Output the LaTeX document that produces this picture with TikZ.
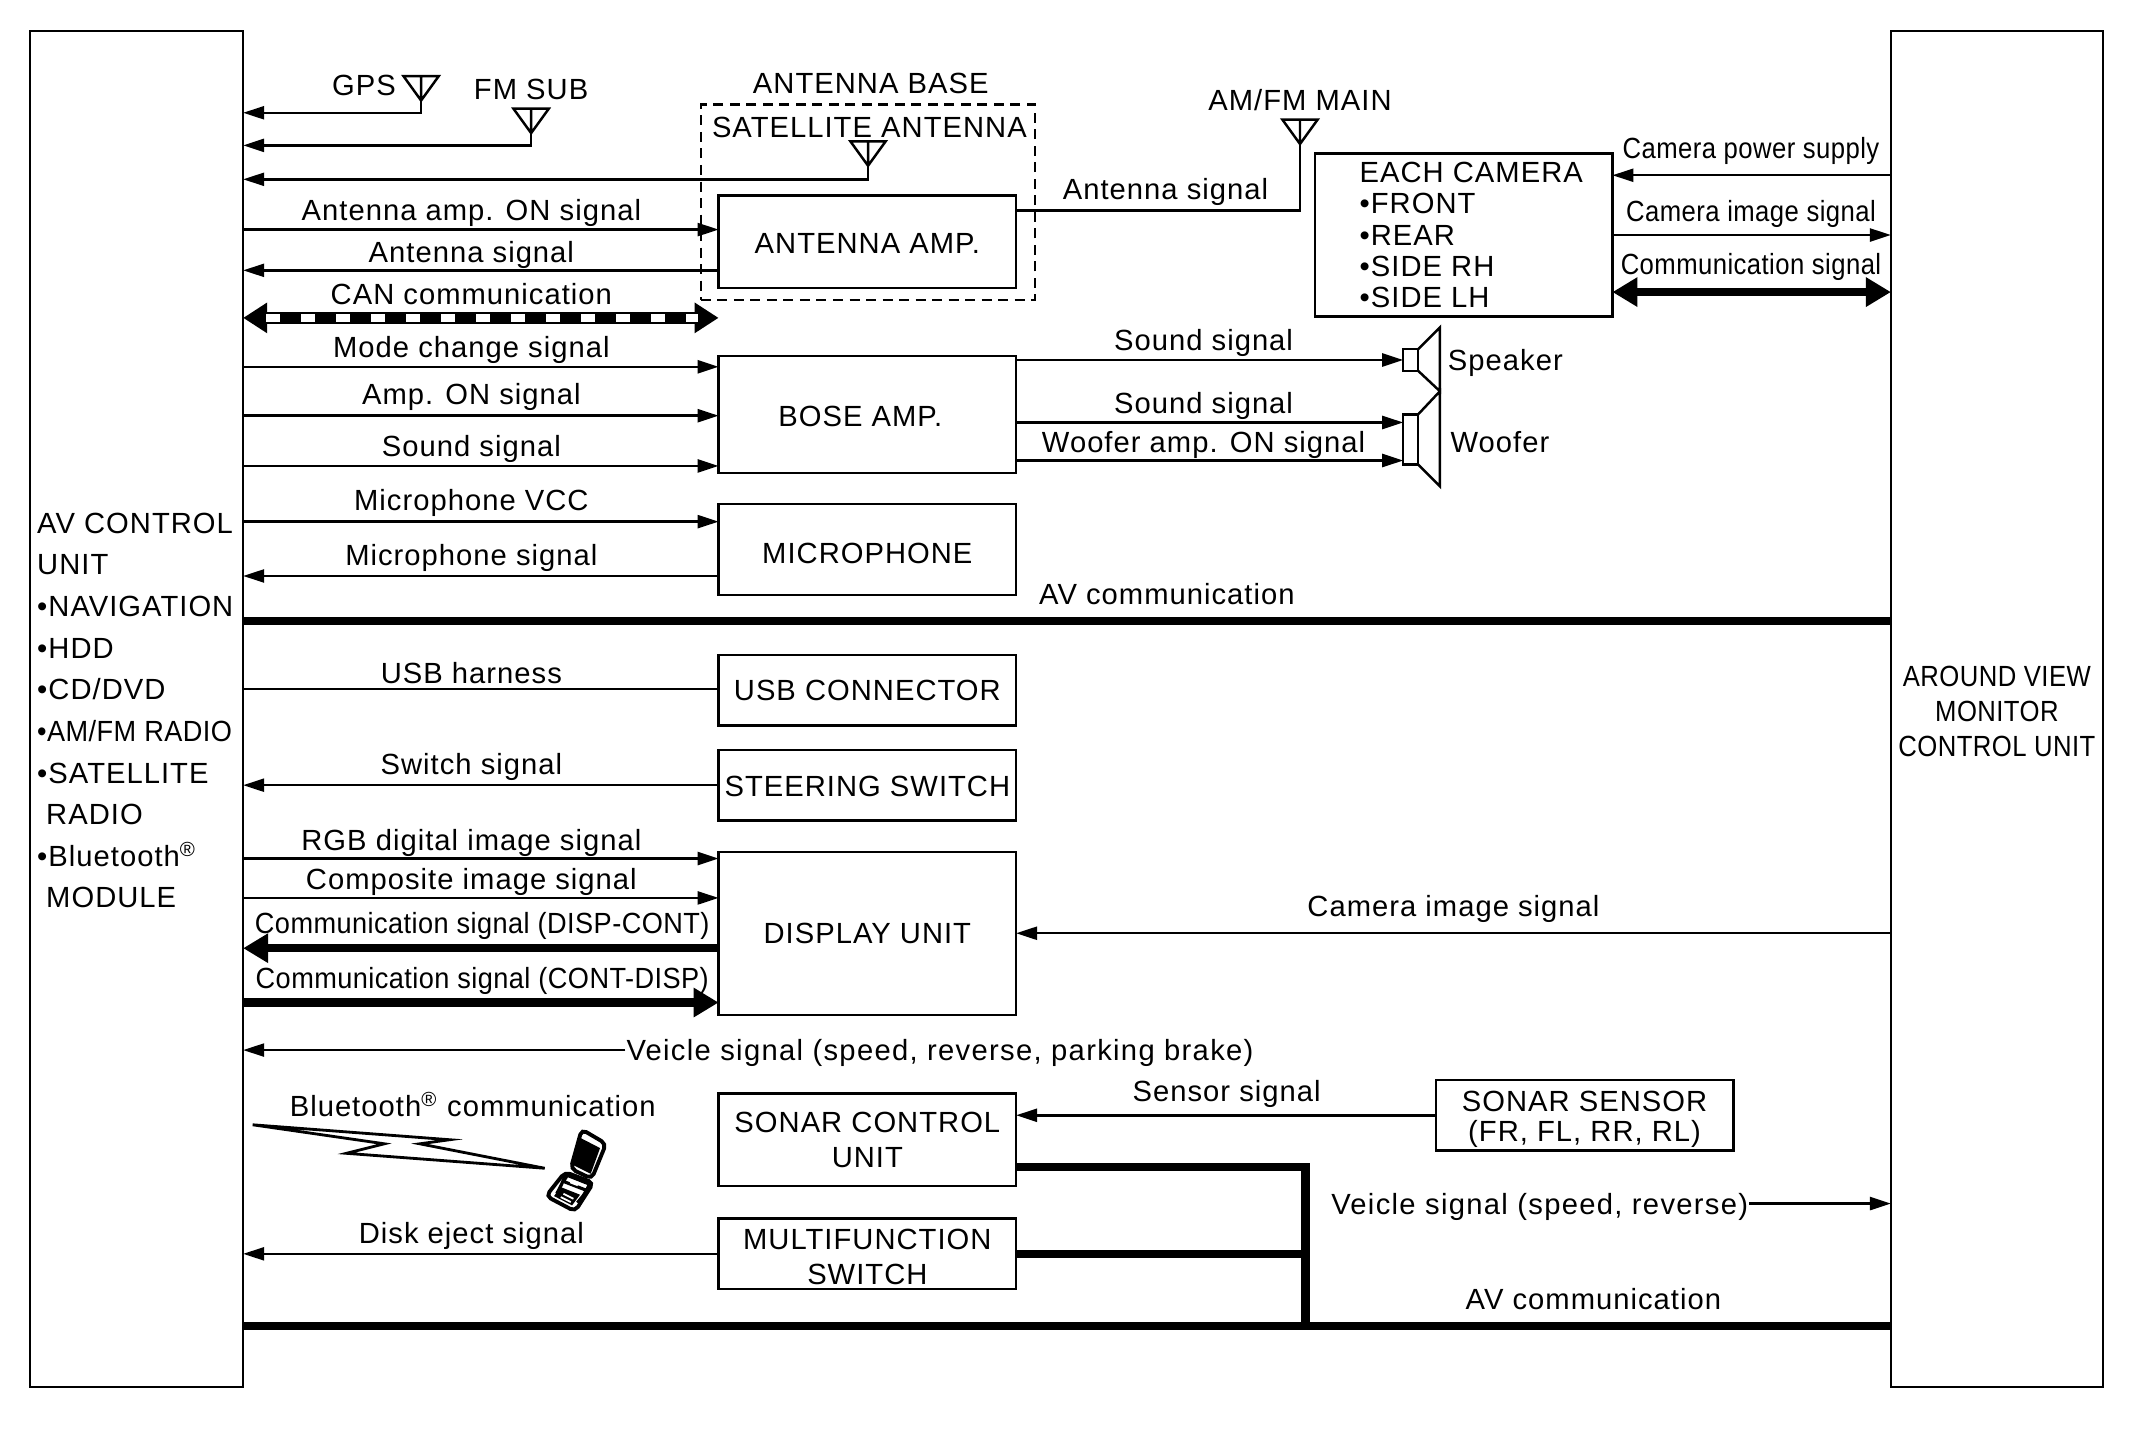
\documentclass[tikz,border=0pt]{standalone}
\usepackage{fontspec}
\setmainfont{Liberation Sans}[LetterSpace=3.5]
\newfontfamily\narrowfont{Liberation Sans}[FakeStretch=0.88,LetterSpace=1.5]
\newfontfamily\midfont{Liberation Sans}[FakeStretch=0.93,LetterSpace=1.5]
\newfontfamily\widefont{Liberation Sans}[LetterSpace=4.5]
\newcommand{\lblsize}{\fontsize{8.3}{10}\selectfont}
\usetikzlibrary{arrows.meta}
\tikzset{
  every picture/.style={font=\lblsize, line width=0.7pt},
  blkbox/.style={draw, inner sep=0pt, outer sep=0pt, align=center},
  txt/.style={inner sep=0pt, text height=7.2pt, text depth=1pt},
  sig/.style={-{Triangle[length=0.21cm,width=0.13cm]}},
  sigback/.style={{Triangle[length=0.21cm,width=0.13cm]}-},
  thicksig/.style={line width=2.4pt, -{Triangle[length=0.25cm,width=0.28cm]}},
  bothsig/.style={line width=2.4pt, {Triangle[length=0.25cm,width=0.28cm]}-{Triangle[length=0.25cm,width=0.28cm]}},
  busline/.style={line width=2.4pt},
  canline/.style={line width=3.4pt, {Triangle[length=0.24cm,width=0.29cm]}-{Triangle[length=0.24cm,width=0.29cm]}},
  candots/.style={white, line width=2.3pt, dash pattern=on 0.135cm off 0.215cm},
}
% box from (x1,y1) to (x2,y2): options, name x1 y1 x2 y2 text
\newcommand{\blk}[6][]{%
  \node[blkbox, minimum width={(#5-#3)*0.013584cm}, minimum height={(#6-#4)*0.013584cm}, #1] (#2) at ({(#3+#5)/2},{(#4+#6)/2}) {};}
% same, with its text
\newcommand{\blkt}[7][]{%
  \node[blkbox, minimum width={(#5-#3)*0.013584cm}, minimum height={(#6-#4)*0.013584cm}, #1] (#2) at ({(#3+#5)/2},{(#4+#6)/2}) {#7};}
% aerial triangle: name x ytop, name is put on the apex
\newcommand{\aerial}[3]{%
  \draw ({#2-13},#3) -- ({#2+13},#3) -- (#2,{#3+18}) -- cycle (#2,#3) -- (#2,{#3+18});
  \coordinate (#1) at (#2,{#3+18});}
\begin{document}
\begin{tikzpicture}[x=0.013584cm, y=-0.013584cm]
  \useasboundingbox (0,0) rectangle (1568,1064);
  % control units
  \blk{avcu}{22}{23}{179}{1021}
  \blkt{avmcu}{1392}{23}{1548}{1021}{\narrowfont\rule{0pt}{7.2pt}AROUND VIEW\\\narrowfont MONITOR\\\narrowfont CONTROL UNIT}
  \node[inner sep=0pt, anchor=west, align=left, font=\fontsize{8.3}{11.85}\selectfont] (avtext) at (26.5,523) {AV CONTROL\\UNIT\\•NAVIGATION\\•HDD\\•CD/DVD\\{\midfont •AM/FM RADIO}\\•SATELLITE\\\hspace{0.09cm}RADIO\\•Bluetooth\textsuperscript{®}\\\hspace{0.09cm}MODULE};
  % boxes in the middle
  \blkt{antamp}{529}{144}{748}{212}{\rule{0pt}{6.8pt}ANTENNA AMP.}
  \blkt{boseamp}{529}{262}{748}{348}{\rule{0pt}{6.8pt}BOSE AMP.\hspace{0.14cm}}
  \blkt{mic}{529}{371}{748}{438}{\rule{0pt}{8.2pt}MICROPHONE}
  \blkt{usb}{529}{482}{748}{534}{USB CONNECTOR}
  \blkt{steer}{529}{552}{748}{604}{\rule{0pt}{6.8pt}STEERING SWITCH}
  \blkt{disp}{529}{627}{748}{747}{DISPLAY UNIT}
  \blkt{sonarctl}{529}{805}{748}{873}{SONAR CONTROL\\UNIT}
  \blkt{multisw}{529}{897}{748}{949}{\rule{0pt}{7.6pt}MULTIFUNCTION\\SWITCH}
  \blkt[font=\fontsize{8.3}{8.5}\selectfont]{sonarsens}{1057}{795}{1276}{847}{\rule{0pt}{8.3pt}SONAR SENSOR\\(FR, FL, RR, RL)}
  \blk{camera}{968}{113}{1187}{233}
  \node[inner sep=0pt, anchor=west, align=left, font=\fontsize{8.3}{8.86}\selectfont] (camtext) at (1000,173) {EACH CAMERA\\•FRONT\\•REAR\\•SIDE RH\\•SIDE LH};
  \blk[dash pattern=on 0.1cm off 0.065cm]{antbase}{516}{77}{762}{221}
  % aerials
  \aerial{gpsant}{310}{56}
  \aerial{fmant}{391}{80}
  \aerial{satant}{639}{104}
  \aerial{mainant}{957}{88}
  \node[txt] (gpslbl) at (268,62) {GPS};
  \node[txt] (fmlbl) at (391,65) {FM SUB};
  \node[txt] (baselbl) at (641,61) {ANTENNA BASE};
  \node[txt] (satlbl) at (640,93) {SATELLITE ANTENNA};
  \node[txt] (mainlbl) at (957,73) {AM/FM MAIN};
  \draw[sig] (gpsant) |- (avcu.east |- 0,83);
  \draw[sig] (fmant) |- (avcu.east |- 0,107);
  \draw[sig] (satant) |- (avcu.east |- 0,132);
  % signals to the left unit
  \foreach \nm/\y/\ly/\tgt/\txt in {ampon/169/154/antamp/{Antenna amp. ON signal},
    modechg/270/255/boseamp/{Mode change signal}, ampsw/306/290/boseamp/{Amp. ON signal},
    sndin/343/328/boseamp/{Sound signal}, micvcc/384/368/mic/{Microphone VCC},
    rgbsig/632/618/disp/{RGB digital image signal}, compsig/661/647/disp/{Composite image signal}}{
    \node[txt] (\nm) at (347,\ly) {\txt};
    \draw[sig] (avcu.east |- 0,\y) -- (\tgt.west |- 0,\y);}
  \foreach \nm/\y/\ly/\tgt/\txt in {antsig/199/185/antamp/{Antenna signal},
    micsig/424/408/mic/{Microphone signal}, swsig/578/562/steer/{Switch signal},
    ejectsig/923/907/multisw/{Disk eject signal}}{
    \node[txt] (\nm) at (347,\ly) {\txt};
    \draw[sigback] (avcu.east |- 0,\y) -- (\tgt.west |- 0,\y);}
  \node[txt] (usblbl) at (347,495) {USB harness};
  \draw (avcu.east |- 0,507) -- (usb.west |- 0,507);
  % CAN line
  \node[txt] (canlbl) at (347,216) {CAN communication};
  \draw[canline] (avcu.east |- 0,234) -- (antamp.west |- 0,234);
  \coordinate (canl) at (196,234);
  \coordinate (canr) at (514,234);
  \draw[candots] (canl) -- (canr);
  % display unit
  \node[txt, font=\lblsize\midfont] (dispcont) at (355,679) {Communication signal (DISP-CONT)};
  \node[txt, font=\lblsize\midfont] (contdisp) at (355,720) {Communication signal (CONT-DISP)};
  \draw[thicksig] (disp.west |- 0,698) -- (avcu.east |- 0,698);
  \draw[thicksig] (avcu.east |- 0,738) -- (disp.west |- 0,738);
  \node[txt] (camimg) at (1070,667) {Camera image signal};
  \draw[sig] (avmcu.west |- 0,687) -- (disp.east |- 0,687);
  \node[txt, font=\lblsize\widefont] (vehsig) at (692,773) {Veicle signal (speed, reverse, parking brake)};
  \draw[sig] (vehsig.west) -- (avcu.east |- vehsig);
  % antenna amp out
  \node[txt] (antout) at (858,139) {Antenna signal};
  \draw (antamp.east |- 0,155) -| (mainant);
  % speakers
  \blk{spk}{1033}{257}{1044}{273}
  \blk{wfr}{1033}{305}{1044}{342}
  \draw (spk.north east) -- (1060,241) -- (1060,288) -- (spk.south east);
  \draw (wfr.north east) -- (1060,288) -- (1060,358) -- (wfr.south east);
  \node[txt, anchor=west] (spklbl) at (1065,265) {Speaker};
  \node[txt, anchor=west] (wfrlbl) at (1067,325) {Woofer};
  \foreach \nm/\y/\ly/\tgt/\txt in {sndspk/265/250/spk/{Sound signal}, sndwfr/311/296/wfr/{Sound signal}, wfron/339/325/wfr/{Woofer amp. ON signal}}{
    \node[txt] (\nm) at (886,\ly) {\txt};
    \draw[sig] (boseamp.east |- 0,\y) -- (\tgt.west |- 0,\y);}
  % camera signals
  \node[txt, font=\lblsize\narrowfont] (campwr) at (1289,109) {Camera power supply};
  \node[txt, font=\lblsize\narrowfont] (camsig) at (1289,155) {Camera image signal};
  \node[txt, font=\lblsize\narrowfont] (camcomm) at (1289,194) {Communication signal};
  \draw[sig] (avmcu.west |- 0,129) -- (camera.east |- 0,129);
  \draw[sig] (camera.east |- 0,173) -- (avmcu.west |- 0,173);
  \draw[bothsig] (camera.east |- 0,215) -- (avmcu.west |- 0,215);
  % AV communication
  \node[txt] (avcomm) at (859,437) {AV communication};
  \draw[busline] (avcu.east |- 0,457) -- (avmcu.west |- 0,457);
  \node[txt] (avcommb) at (1173,956) {AV communication};
  \draw[busline] (avcu.east |- 0,976) -- (avmcu.west |- 0,976);
  \coordinate (bustap) at (961,976);
  \draw[busline] (sonarctl.east |- 0,859) -| (bustap);
  \draw[busline] (multisw.east |- 0,923) -- (bustap |- 0,923);
  % sonar
  \node[txt] (senslbl) at (903,803) {Sensor signal};
  \draw[sig] (sonarsens.west |- 0,821) -- (sonarctl.east |- 0,821);
  \node[txt, font=\lblsize\widefont] (vehrev) at (1133.5,886) {Veicle signal (speed, reverse)};
  \draw[sig] (vehrev.east) -- (avmcu.west |- vehrev);
  % bluetooth bolt and phone
  \node[txt] (btlbl) at (348,814) {Bluetooth\textsuperscript{®} communication};
  \draw[line width=0.8pt, line join=miter] (186,828) -- (331,839) -- (309,842) -- (401,860) -- (255,849) -- (283,842) -- cycle;
  \begin{scope}[shift={(390.2,826)}, scale=0.2454]
    \draw[line width=1.1pt, rounded corners=1.5pt, fill=white] (155,22) -- (228,65) -- (185,170) -- (122,140) -- cycle;
    \fill (150,47) -- (210,78) -- (182,155) -- (128,128) -- cycle;
    \draw[line width=1.1pt, rounded corners=1.5pt, fill=white] (105,150) -- (190,182) -- (135,268) -- (48,222) -- cycle;
    \fill (92,195) -- (150,218) -- (126,250) -- (72,222) -- cycle;
    \draw[line width=0.9pt] (105,160) -- (95,186) -- (80,215) (178,190) -- (160,220) -- (142,242);
    \draw[line width=0.9pt] (112,160) -- (178,186) -- (170,205) -- (100,178) -- cycle;
    \fill[white] (125,172) -- (148,181) -- (142,192) -- (119,183) -- cycle;
    \draw[white, line width=0.5pt] (100,215) -- (130,230) (92,225) -- (122,240);
  \end{scope}
\end{tikzpicture}
\end{document}
